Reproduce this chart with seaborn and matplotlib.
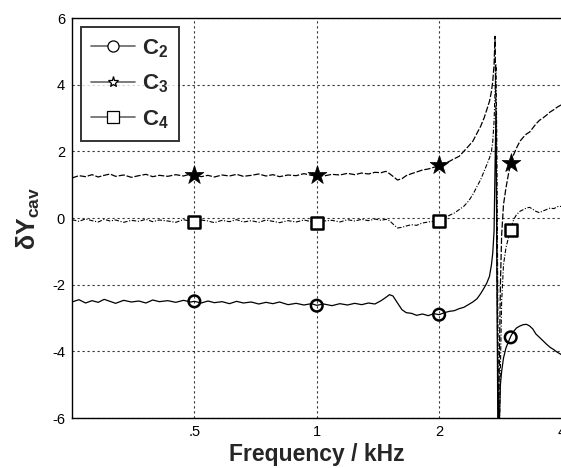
import numpy as np
import pandas as pd
import matplotlib
matplotlib.use("Agg")
import matplotlib.pyplot as plt
import seaborn as sns
from matplotlib.lines import Line2D

# ---------------- data ----------------
freq = [0.25, 0.26, 0.27, 0.28, 0.29, 0.30, 0.31, 0.32, 0.335, 0.35,
        0.365, 0.38, 0.395, 0.41, 0.43, 0.45, 0.47, 0.49, 0.50, 0.52,
        0.54, 0.56, 0.585, 0.61, 0.635, 0.66, 0.69, 0.72, 0.75, 0.78,
        0.81, 0.85, 0.89, 0.93, 0.97, 1.00, 1.04, 1.09, 1.14, 1.19,
        1.24, 1.29, 1.34, 1.39, 1.44, 1.48, 1.51, 1.54, 1.58, 1.62,
        1.66, 1.71, 1.76, 1.82, 1.88, 1.94, 2.00, 2.06, 2.12, 2.18,
        2.24, 2.30, 2.36, 2.42, 2.48, 2.53, 2.58, 2.62, 2.66, 2.69,
        2.71, 2.73, 2.745, 2.76, 2.775, 2.79, 2.80, 2.815, 2.83, 2.85,
        2.88, 2.92, 2.96, 3.00, 3.05, 3.10, 3.16, 3.22, 3.28, 3.34,
        3.40, 3.46, 3.53, 3.60, 3.67, 3.75, 3.83, 3.91, 4.00]

c2 = [-2.52, -2.45, -2.55, -2.48, -2.53, -2.44, -2.50, -2.56, -2.47, -2.52,
      -2.49, -2.55, -2.46, -2.51, -2.48, -2.53, -2.47, -2.52, -2.50, -2.55,
      -2.49, -2.54, -2.51, -2.57, -2.50, -2.55, -2.52, -2.58, -2.53, -2.57,
      -2.52, -2.60, -2.56, -2.61, -2.57, -2.62, -2.58, -2.63, -2.57, -2.61,
      -2.56, -2.60, -2.55, -2.58, -2.48, -2.38, -2.30, -2.34, -2.55, -2.75,
      -2.84, -2.86, -2.92, -2.88, -2.93, -2.87, -2.90, -2.84, -2.80, -2.78,
      -2.72, -2.68, -2.60, -2.52, -2.42, -2.27, -2.10, -1.95, -1.75, -1.40,
      -1.05, -0.40, 1.50, 3.20, -2.00, -6.50, -6.50, -6.00, -5.00, -4.60,
      -4.20, -3.90, -3.72, -3.55, -3.40, -3.30, -3.24, -3.20, -3.19, -3.24,
      -3.33, -3.48, -3.58, -3.68, -3.78, -3.88, -3.95, -4.03, -4.10]

c3 = [1.20, 1.27, 1.24, 1.30, 1.23, 1.28, 1.32, 1.25, 1.29, 1.22,
      1.27, 1.31, 1.24, 1.28, 1.25, 1.30, 1.26, 1.32, 1.29, 1.24,
      1.28, 1.23, 1.29, 1.26, 1.31, 1.25, 1.28, 1.32, 1.26, 1.30,
      1.24, 1.29, 1.27, 1.33, 1.28, 1.30, 1.26, 1.31, 1.29, 1.34,
      1.30, 1.35, 1.32, 1.37, 1.36, 1.40, 1.33, 1.25, 1.14, 1.18,
      1.27, 1.33, 1.38, 1.44, 1.47, 1.52, 1.57, 1.64, 1.70, 1.78,
      1.85, 2.00, 2.15, 2.30, 2.55, 2.75, 3.00, 3.25, 3.50, 3.80,
      4.10, 4.60, 5.45, 3.00, -1.00, -5.00, -6.50, -4.00, -2.00, -0.50,
      0.40, 0.90, 1.30, 1.65, 1.90, 2.10, 2.30, 2.42, 2.52, 2.58,
      2.70, 2.82, 2.93, 3.00, 3.08, 3.18, 3.25, 3.33, 3.40]

c4 = [-0.05, -0.10, -0.03, -0.08, -0.12, -0.04, -0.09, -0.06, -0.13, -0.07,
      -0.10, -0.04, -0.11, -0.06, -0.09, -0.13, -0.05, -0.10, -0.12, -0.06,
      -0.09, -0.14, -0.07, -0.11, -0.05, -0.12, -0.08, -0.13, -0.06, -0.10,
      -0.14, -0.08, -0.12, -0.06, -0.11, -0.15, -0.09, -0.07, -0.12, -0.05,
      -0.09, -0.04, -0.08, -0.03, -0.07, -0.04, -0.08, -0.18, -0.30, -0.28,
      -0.24, -0.20, -0.22, -0.15, -0.12, -0.10, -0.08, 0.00, 0.08, 0.15,
      0.25, 0.35, 0.50, 0.70, 0.95, 1.15, 1.40, 1.60, 1.80, 2.00,
      2.30, 2.90, 3.80, 4.60, 2.00, -3.00, -6.50, -6.50, -4.50, -2.50,
      -1.40, -0.90, -0.60, -0.35, -0.05, 0.10, 0.20, 0.25, 0.30, 0.32,
      0.26, 0.20, 0.16, 0.21, 0.25, 0.30, 0.28, 0.34, 0.35]

mark_freq = [0.5, 1.0, 2.0, 3.0]
c2_mark = [-2.50, -2.63, -2.90, -3.58]
c3_mark = [1.29, 1.30, 1.58, 1.65]
c4_mark = [-0.12, -0.15, -0.08, -0.36]

series_names = ["C$_\\mathbf{2}$", "C$_\\mathbf{3}$", "C$_\\mathbf{4}$"]
x_ticks = [0.5, 1, 2, 4]
x_ticklabels = [".5", "1", "2", "4"]
y_ticks = [-6, -4, -2, 0, 2, 4, 6]

# ---------------- figure ----------------
sns.set_style("white")
plt.rcParams["font.family"] = ["Liberation Sans", "DejaVu Sans"]
plt.rcParams["mathtext.fontset"] = "custom"
plt.rcParams["mathtext.rm"] = "Liberation Sans:bold"
plt.rcParams["mathtext.bf"] = "Liberation Sans:bold"
plt.rcParams["mathtext.it"] = "Liberation Sans:bold"

fig = plt.figure(figsize=(5.61, 4.68), dpi=100)
ax = fig.add_axes([72 / 561, 50 / 468, 489.5 / 561, 400 / 468])

df = pd.DataFrame({"f": freq, "c2": c2, "c3": c3, "c4": c4})
sns.lineplot(data=df, x="f", y="c2", ax=ax, color="black", lw=0.9,
             sort=False, estimator=None)
sns.lineplot(data=df, x="f", y="c3", ax=ax, color="black", lw=0.9,
             sort=False, estimator=None, linestyle=(0, (5, 1.5)))
sns.lineplot(data=df, x="f", y="c4", ax=ax, color="black", lw=0.8,
             sort=False, estimator=None, linestyle=(0, (4, 1.5, 1, 1.5)))

sns.scatterplot(x=mark_freq, y=c2_mark, ax=ax, marker="o", s=70,
                facecolor="none", edgecolor="black", linewidth=1.8, zorder=5)
sns.scatterplot(x=mark_freq, y=c3_mark, ax=ax, marker="*", s=200,
                color="black", edgecolor="black", linewidth=0.5, zorder=5)
sns.scatterplot(x=mark_freq, y=c4_mark, ax=ax, marker="s", s=70,
                facecolor="white", edgecolor="black", linewidth=1.8, zorder=5)

ax.set_xscale("log", base=2)
ax.set_xlim(0.25, 4)
ax.set_ylim(-6, 6)
ax.set_xticks(x_ticks)
ax.set_xticklabels(x_ticklabels)
ax.xaxis.set_minor_locator(matplotlib.ticker.NullLocator())
ax.set_yticks(y_ticks)
ax.set_yticklabels([str(v) for v in y_ticks])
ax.tick_params(direction="in", length=4, width=0.8, labelsize=10.5,
               colors="black", pad=5)
ax.grid(True, linestyle=(0, (2, 2.5)), color="black", linewidth=0.8, alpha=0.8)
for s in ax.spines.values():
    s.set_color("black")
    s.set_linewidth(1.0)

ax.set_xlabel("Frequency / kHz", fontsize=16.5, fontweight="bold", labelpad=3)
ax.set_ylabel("δY$_{\\mathbf{cav}}$", fontsize=18, fontweight="bold", labelpad=7)

handles = [
    Line2D([], [], color="#666666", lw=1.2, marker="o", ms=8,
           mfc="white", mec="black", mew=0.9),
    Line2D([], [], color="#666666", lw=1.2, marker="*", ms=8,
           mfc="white", mec="black", mew=0.9),
    Line2D([], [], color="#666666", lw=1.2, marker="s", ms=8,
           mfc="white", mec="black", mew=0.9),
]
leg = ax.legend(handles, series_names, loc="upper left",
                bbox_to_anchor=(9 / 489.5, (418 - 27) / 400),
                borderaxespad=0, frameon=True, fancybox=False,
                prop={"weight": "bold", "size": 16}, handlelength=2.0,
                labelspacing=0.58, borderpad=0.45, handletextpad=0.3)
leg.get_frame().set_edgecolor("black")
leg.get_frame().set_linewidth(1.4)

fig.savefig("out.png", dpi=100)
